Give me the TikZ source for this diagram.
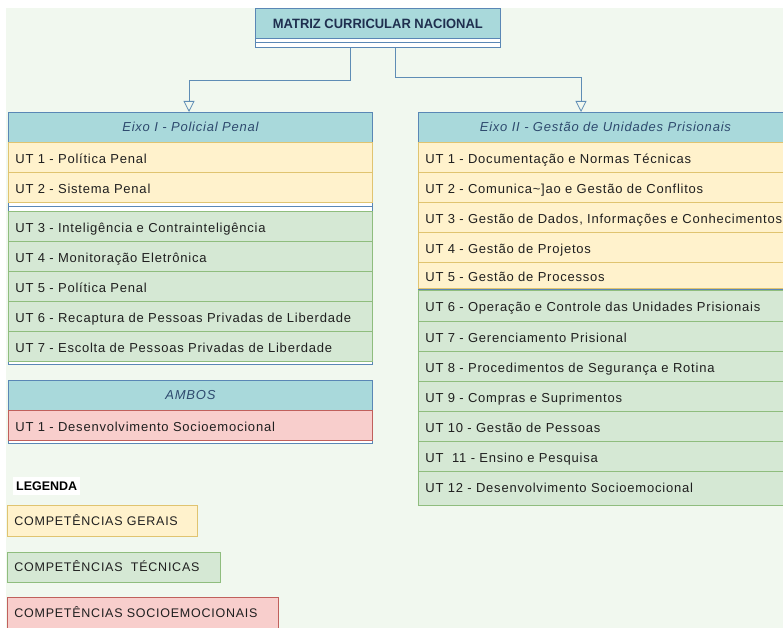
\documentclass[tikz,border=0pt]{standalone}
\usepackage{fontspec}
\setmainfont{Liberation Sans}
\newfontfamily\rowfont{Liberation Sans}[LetterSpace=6]
\usetikzlibrary{arrows.meta}
\definecolor{bgc}{HTML}{F1F8EF}
\definecolor{tealc}{HTML}{A9D9DB}
\definecolor{blueb}{HTML}{5A87B5}
\definecolor{yfill}{HTML}{FFF2CC}
\definecolor{ydraw}{HTML}{E0C470}
\definecolor{gfill}{HTML}{D5E8D4}
\definecolor{gdraw}{HTML}{8FBD7E}
\definecolor{rfill}{HTML}{F8CECC}
\definecolor{rdraw}{HTML}{C0605C}
\definecolor{hdrtext}{HTML}{2E4A6E}
\definecolor{titletext}{HTML}{1F2F4F}
\definecolor{connc}{HTML}{5F8DB5}
\begin{document}
\begin{tikzpicture}[x=1pt,y=-1pt,
  box/.style={draw=blueb, fill=white, anchor=north west, inner sep=0pt, line width=0.8pt},
  hdr/.style={draw=blueb, fill=tealc, anchor=north west, inner sep=0pt, minimum height=30pt, line width=0.8pt,
     font=\rowfont\itshape\fontsize{13}{15}\selectfont, text=hdrtext, text height=9pt, text depth=0pt},
  rowbase/.style={anchor=north west, inner xsep=7pt, inner ysep=0pt, align=left, line width=0.8pt,
     font=\rowfont\fontsize{13}{15}\selectfont, text=black!88, text height=11.5pt, text depth=0pt},
  yellowrow/.style={rowbase, draw=ydraw, fill=yfill},
  greenrow/.style={rowbase, draw=gdraw, fill=gfill},
  redrow/.style={rowbase, draw=rdraw, fill=rfill},
  legendtext/.style={font=\rowfont\fontsize{12.5}{15}\selectfont, text height=9pt},
  conn/.style={draw=connc, line width=0.8pt, -{Triangle[open, length=11pt, width=11pt]}},
  sepline/.style={draw=blueb, line width=0.8pt}
]
\useasboundingbox (0,0) rectangle (783,628);
\clip (0,0) rectangle (783,628);
\fill[bgc] (6,8) rectangle (790,640);

% title class box
\node[box, fill=tealc, minimum width=245pt, minimum height=30pt, text=titletext,
  font=\bfseries\fontsize{13.5}{15}\selectfont, text height=9.7pt, text depth=0pt] (title) at (255,8) {\scalebox{0.96}[1]{MATRIZ CURRICULAR NACIONAL}};
\node[box, minimum width=245pt, minimum height=4.5pt] (c1) at (255,38) {};
\node[box, minimum width=245pt, minimum height=4.5pt] (c2) at (255,42.5) {};

% left column
\node[box, minimum width=364pt, minimum height=252pt] (box1) at (8,112) {};
\node[hdr, minimum width=364pt] (eixo1) at (8,112) {Eixo I - Policial Penal};
\node[yellowrow, text width=350pt, minimum height=30pt] (l1) at (8,142) {UT 1 - Política Penal};
\node[yellowrow, text width=350pt, minimum height=30pt] (l2) at (8,172) {UT 2 - Sistema Penal};
\draw[sepline] ([yshift=-3.5pt]l2.south west) -- ([yshift=-3.5pt]l2.south east);
\node[greenrow, text width=350pt, minimum height=30pt] (l3) at (8,211) {UT 3 - Inteligência e Contrainteligência};
\node[greenrow, text width=350pt, minimum height=30pt] (l4) at (8,241) {UT 4 - Monitoração Eletrônica};
\node[greenrow, text width=350pt, minimum height=30pt] (l5) at (8,271) {UT 5 - Política Penal};
\node[greenrow, text width=350pt, minimum height=30pt] (l6) at (8,301) {UT 6 - Recaptura de Pessoas Privadas de Liberdade};
\node[greenrow, text width=350pt, minimum height=30pt] (l7) at (8,331) {UT 7 - Escolta de Pessoas Privadas de Liberdade};

% ambos
\node[box, minimum width=364pt, minimum height=63pt] (box3) at (8,380) {};
\node[hdr, minimum width=364pt] (ambos) at (8,380) {AMBOS};
\node[redrow, text width=350pt, minimum height=30pt] (a1) at (8,410) {UT 1 - Desenvolvimento Socioemocional};

% right column
\node[box, minimum width=382pt, minimum height=177pt] (box2) at (418,112) {};
\node[hdr, minimum width=382pt] (eixo2) at (418,112) {\hspace*{-8pt}Eixo II - Gestão de Unidades Prisionais};
\node[yellowrow, text width=368pt, minimum height=30pt] (r1) at (418,142) {UT 1 - Documentação e Normas Técnicas};
\node[yellowrow, text width=368pt, minimum height=30pt] (r2) at (418,172) {UT 2 - Comunica\textasciitilde]ao e Gestão de Conflitos};
\node[yellowrow, text width=368pt, minimum height=30pt] (r3) at (418,202) {UT 3 - Gestão de Dados, Informações e Conhecimentos};
\node[yellowrow, text width=368pt, minimum height=30pt] (r4) at (418,232) {UT 4 - Gestão de Projetos};
\node[yellowrow, text width=368pt, minimum height=26pt] (r5) at (418,262) {UT 5 - Gestão de Processos};
\node[greenrow, text width=368pt, minimum height=31pt] (r6) at (418,290) {UT 6 - Operação e Controle das Unidades Prisionais};
\node[greenrow, text width=368pt, minimum height=30pt] (r7) at (418,321) {UT 7 - Gerenciamento Prisional};
\node[greenrow, text width=368pt, minimum height=30pt] (r8) at (418,351) {UT 8 - Procedimentos de Segurança e Rotina};
\node[greenrow, text width=368pt, minimum height=30pt] (r9) at (418,381) {UT 9 - Compras e Suprimentos};
\node[greenrow, text width=368pt, minimum height=30pt] (r10) at (418,411) {UT 10 - Gestão de Pessoas};
\node[greenrow, text width=368pt, minimum height=30pt] (r11) at (418,441) {UT\ \ 11 - Ensino e Pesquisa};
\node[greenrow, text width=368pt, minimum height=34pt, text depth=4pt] (r12) at (418,471) {UT 12 - Desenvolvimento Socioemocional};

% connectors
\draw[conn] ([xshift=-27.5pt]c2.south) -- ++(0,33) -| ([xshift=181pt]eixo1.north west);
\draw[conn] ([xshift=17.5pt]c2.south) -- ++(0,30) -| ([xshift=163pt]eixo2.north west);

% legend
\node[fill=white, anchor=north west, minimum width=67pt, minimum height=18pt, inner sep=0pt,
  font=\bfseries\fontsize{12.5}{15}\selectfont, text height=9pt, text depth=0pt] (leg) at (13,477) {LEGENDA};
\node[yellowrow, legendtext, text width=176pt, minimum height=31pt] (lg1) at (7,505) {COMPETÊNCIAS GERAIS};
\node[greenrow, legendtext, text width=199pt, minimum height=30pt] (lg2) at (7,552) {COMPETÊNCIAS\ \ TÉCNICAS};
\node[redrow, legendtext, text width=257pt, minimum height=31pt] (lg3) at (7,597) {COMPETÊNCIAS SOCIOEMOCIONAIS};
\end{tikzpicture}
\end{document}
